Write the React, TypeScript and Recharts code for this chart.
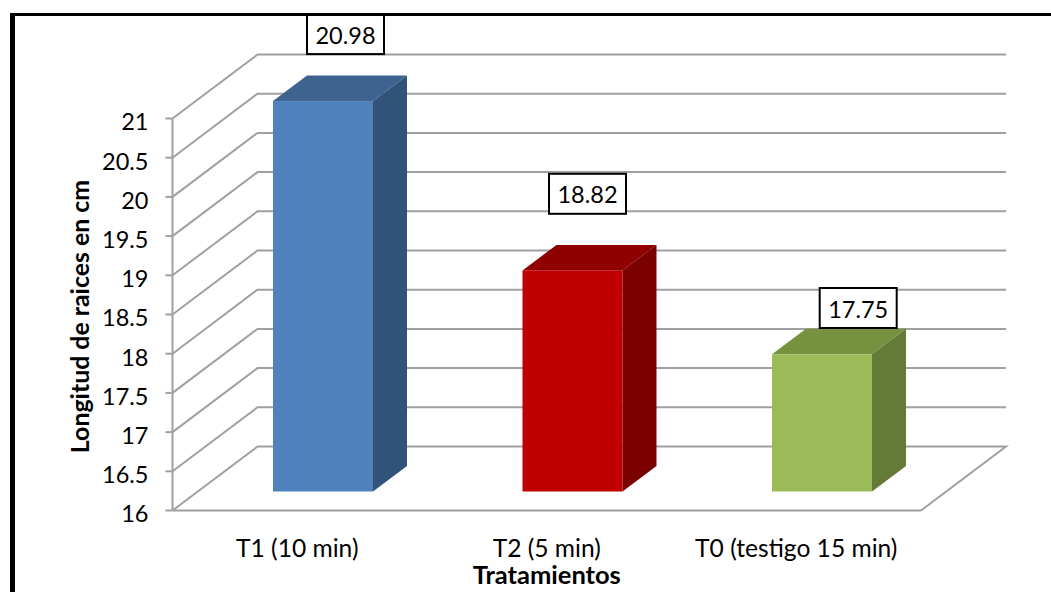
import { Bar, BarChart, CartesianGrid, LabelList, XAxis, YAxis } from 'recharts';

const categories = ['T1 (10 min)', 'T2 (5 min)', 'T0 (testigo 15 min)'];
const lengths = [20.98, 18.82, 17.75];
const yTicks = [16, 16.5, 17, 17.5, 18, 18.5, 19, 19.5, 20, 20.5, 21];

const data = categories.map((name, i) => ({ name, value: lengths[i] }));

const FONT = 'Lato, "Open Sans", sans-serif';
const GRID = '#a0a0a0';

// front, top and side faces of each column
const faces = [
  ['#4f81bd', '#3f6391', '#325379'],
  ['#c00000', '#900000', '#7b0000'],
  ['#9bbb59', '#76923f', '#647a37'],
];

// depth of the chart floor and of the columns standing on it
const WALL_DX = 85;
const WALL_DY = 64;
const BAR_DX = 34;
const BAR_DY = 25.5;
const BAR_SHIFT_X = 25.5;
const BAR_SHIFT_Y = -19;

// data labels were placed by hand, relative to the top of the column
const labelOffsets = [
  { dx: 48, dy: -86 },
  { dx: 40.5, dy: -95.6 },
  { dx: 61.7, dy: -65.3 },
];

function WallLine(props: any) {
  const { x1, x2, y1 } = props;
  const backY = y1 - WALL_DY;
  const isFloor = Math.abs(y1 - 510.5) < 1;
  const points = [`${x1},${y1}`, `${x1 + WALL_DX},${backY}`, `${x2 + WALL_DX},${backY}`];
  if (isFloor) points.push(`${x2},${y1}`);
  return <polyline points={points.join(' ')} fill="none" stroke={GRID} strokeWidth={2} />;
}

function Column(props: any) {
  const { x, y, width, height, index } = props;
  const [front, top, side] = faces[index];
  const l = x + BAR_SHIFT_X;
  const r = l + width;
  const t = y + BAR_SHIFT_Y;
  const b = t + height;
  return (
    <g>
      <polygon points={`${l},${t} ${r},${t} ${r + BAR_DX},${t - BAR_DY} ${l + BAR_DX},${t - BAR_DY}`} fill={top} />
      <polygon points={`${r},${t} ${r + BAR_DX},${t - BAR_DY} ${r + BAR_DX},${b - BAR_DY} ${r},${b}`} fill={side} />
      <rect x={l} y={t} width={width} height={height} fill={front} />
    </g>
  );
}

function ValueBox(props: any) {
  const { x, y, width, value, index } = props;
  const { dx, dy } = labelOffsets[index];
  const cx = x + width / 2 + dx;
  const cy = y + dy;
  return (
    <g>
      <rect x={cx - 38.5} y={cy - 20} width={77} height={40} fill="#fff" stroke="#000" strokeWidth={2} />
      <text x={cx} y={cy + 9.5} textAnchor="middle" fontFamily={FONT} fontSize={23.5} fill="#000">
        {value}
      </text>
    </g>
  );
}

export default function App() {
  return (
    <div style={{ position: 'absolute', left: 0, top: 0, width: 1051, height: 592, background: '#fff', overflow: 'hidden' }}>
      <BarChart
        width={1051}
        height={592}
        data={data}
        barSize={100}
        margin={{ top: 118.5, right: 130, bottom: 0, left: 0 }}
      >
        <CartesianGrid vertical={false} horizontal={WallLine} />
        <XAxis
          dataKey="name"
          height={81.5}
          interval={0}
          tickLine={false}
          tickMargin={23}
          axisLine={{ stroke: GRID, strokeWidth: 2 }}
          tick={{ fontFamily: FONT, fontSize: 24.6, fill: '#000' }}
          label={{
            value: 'Tratamientos',
            position: 'insideBottom',
            offset: 8,
            style: { fontFamily: FONT, fontSize: 25.5, fontWeight: 700, fill: '#000' },
          }}
        />
        <YAxis
          width={172.5}
          domain={[16, 21]}
          ticks={yTicks}
          interval={0}
          tickSize={7}
          tickMargin={17}
          axisLine={{ stroke: GRID, strokeWidth: 2 }}
          tickLine={{ stroke: GRID, strokeWidth: 2 }}
          tick={{ fontFamily: FONT, fontSize: 23.5, fill: '#000', dy: 3.5 }}
          label={{
            value: 'Longitud de raices en cm',
            angle: -90,
            position: 'insideLeft',
            offset: 80,
            dy: 2,
            style: { fontFamily: FONT, fontSize: 24.9, fontWeight: 700, fill: '#000', textAnchor: 'middle' },
          }}
        />
        <Bar dataKey="value" shape={Column} isAnimationActive={false}>
          <LabelList dataKey="value" content={ValueBox} />
        </Bar>
      </BarChart>
      <div style={{ position: 'absolute', left: 10, top: 13, right: 0, bottom: 0, borderLeft: '5px solid #000', borderTop: '3px solid #000' }} />
    </div>
  );
}
